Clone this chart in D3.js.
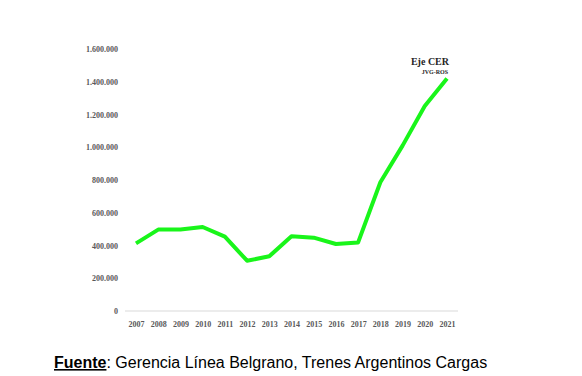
<!DOCTYPE html>
<html>
<head>
<meta charset="utf-8">
<script src="https://cdn.jsdelivr.net/npm/d3@7"></script>
<style>
  body { margin: 0; background: #fff; }
  .tick text { font-family: "Liberation Serif", serif; font-weight: bold; font-size: 8px; fill: #595959; }
</style>
</head>
<body>
<div id="chart"></div>
<script>
// data
var years  = ["2007","2008","2009","2010","2011","2012","2013","2014","2015","2016","2017","2018","2019","2020","2021"]
var cargas = [413000, 497000, 498000, 513000, 454000, 307000, 334000, 456000, 448000, 409000, 419000, 786000, 1010000, 1252000, 1420000]
var yTicks = [0, 200000, 400000, 600000, 800000, 1000000, 1200000, 1400000, 1600000]

var width = 582, height = 376

var svg = d3.select("#chart").append("svg")
  .attr("width", width)
  .attr("height", height)

var x = d3.scalePoint()
  .domain(years)
  .range([136, 447])

var y = d3.scaleLinear()
  .domain([0, 1600000])
  .range([311, 49])

var fmt = function(d) { return d3.format(",")(d).replace(/,/g, ".") }

// y axis: labels only
var yAxis = svg.append("g")
  .attr("transform", "translate(118,0)")
  .call(d3.axisLeft(y).tickValues(yTicks).tickSize(0).tickPadding(0).tickFormat(fmt))
yAxis.select(".domain").remove()

// baseline
svg.append("line")
  .attr("x1", 125).attr("x2", 458)
  .attr("y1", y(0)).attr("y2", y(0))
  .attr("stroke", "#d9d9d9")
  .attr("stroke-width", 1)

var xAxis = svg.append("g")
  .attr("transform", "translate(0," + y(0) + ")")
  .call(d3.axisBottom(x).tickSize(0).tickPadding(10))
xAxis.select(".domain").remove()

svg.append("path")
  .datum(cargas)
  .attr("fill", "none")
  .attr("stroke", "#19f51a")
  .attr("stroke-width", 4)
  .attr("stroke-linejoin", "round")
  .attr("d", d3.line()
    .x(function(d, i) { return x(years[i]) })
    .y(function(d) { return y(d) }))

// label at end of line
svg.append("text")
  .attr("x", x("2021") + 2)
  .attr("y", 65)
  .attr("text-anchor", "end")
  .style("font-family", "Liberation Serif, serif")
  .style("font-weight", "bold")
  .style("font-size", "10px")
  .attr("fill", "#262626")
  .text("Eje CER")

svg.append("text")
  .attr("x", x("2021") + 1)
  .attr("y", 74)
  .attr("text-anchor", "end")
  .style("font-family", "Liberation Serif, serif")
  .style("font-weight", "bold")
  .style("font-size", "6px")
  .attr("fill", "#262626")
  .text("JVG-ROS")

// source note
var note = svg.append("text")
  .attr("x", 54)
  .attr("y", 368)
  .style("font-family", "Liberation Sans, Arial, sans-serif")
  .style("font-size", "16px")
  .attr("fill", "#000")
note.append("tspan")
  .style("font-weight", "bold")
  .style("text-decoration", "underline")
  .text("Fuente")
note.append("tspan")
  .text(": Gerencia Línea Belgrano, Trenes Argentinos Cargas")
</script>
</body>
</html>
